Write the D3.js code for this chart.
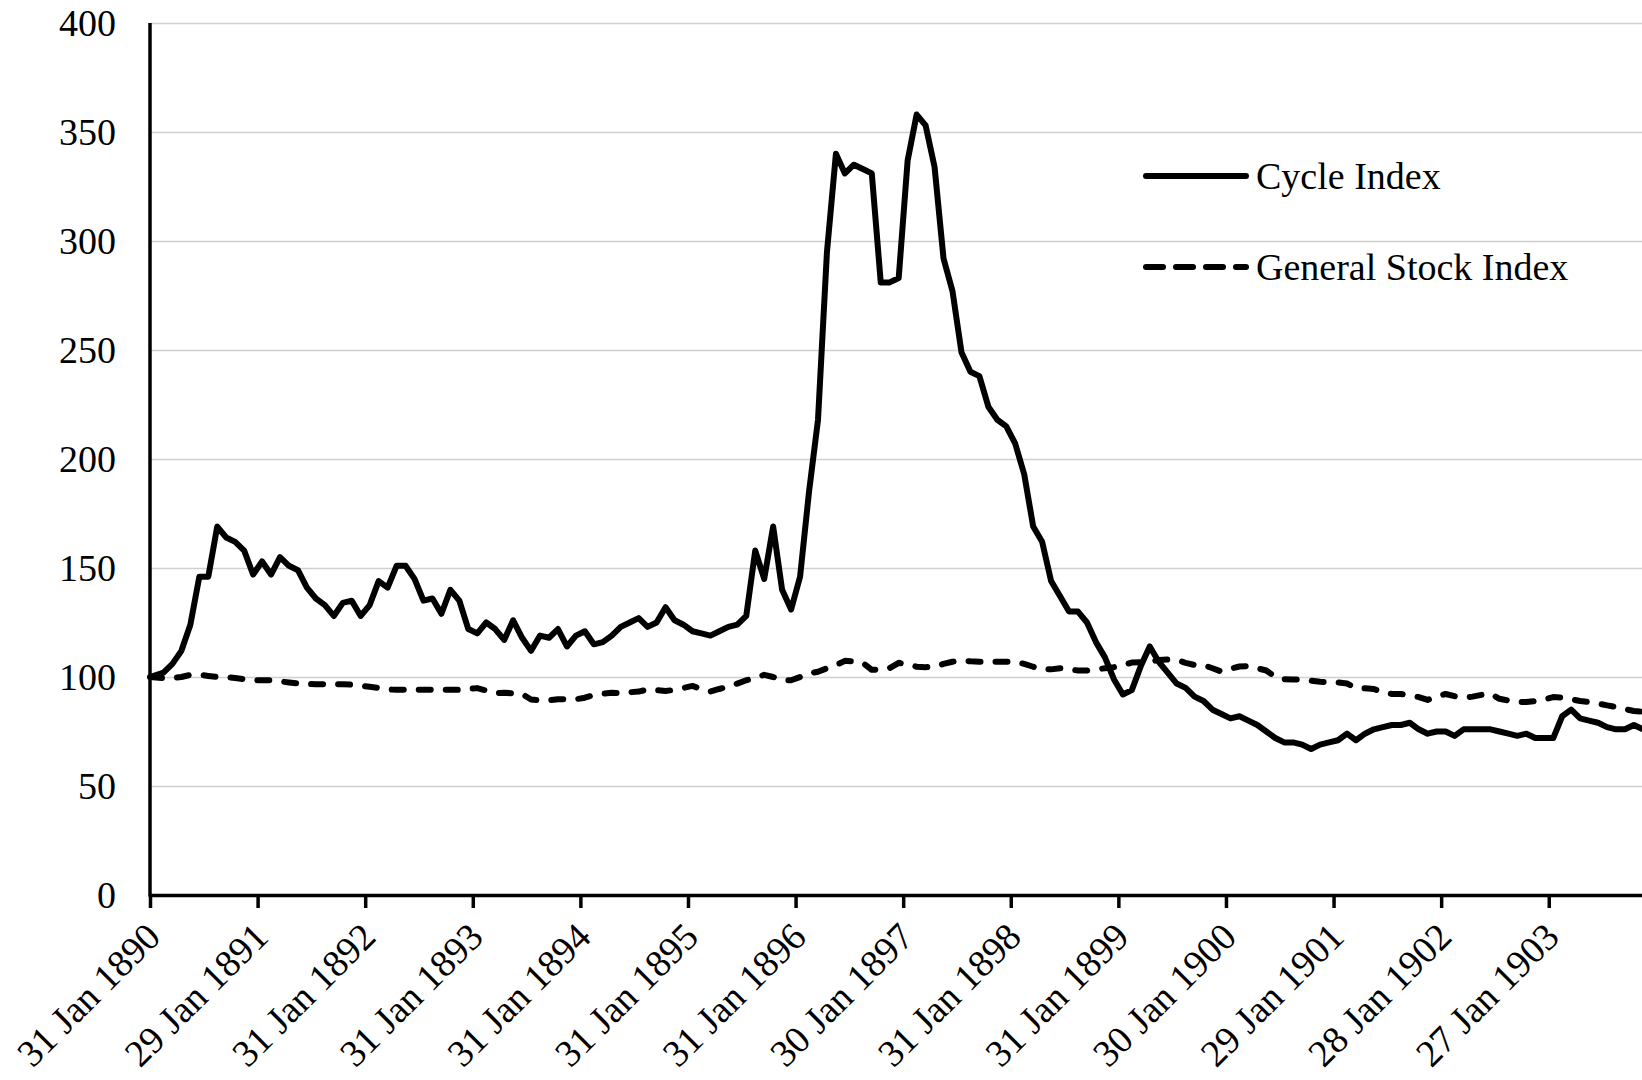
<!DOCTYPE html>
<html>
<head>
<meta charset="utf-8">
<script src="https://cdn.jsdelivr.net/npm/d3@7/dist/d3.min.js"></script>
<style>
  html, body { margin: 0; padding: 0; background: #ffffff; }
  svg { display: block; }
</style>
</head>
<body>
<svg id="chart" width="1642" height="1080"></svg>
<script>
// ---- Data (monthly, Jan 1890 onwards) ----
const tickLabels = ["31 Jan 1890","29 Jan 1891","31 Jan 1892","31 Jan 1893","31 Jan 1894","31 Jan 1895","31 Jan 1896","30 Jan 1897","31 Jan 1898","31 Jan 1899","30 Jan 1900","29 Jan 1901","28 Jan 1902","27 Jan 1903"];
const yTicks = [0, 50, 100, 150, 200, 250, 300, 350, 400];
const seriesNames = ["Cycle Index", "General Stock Index"];

const cycleIndex = [
  100,102,106,112,124,146,146,169,164,162,158,147,
  153,147,155,151,149,141,136,133,128,134,135,128,
  133,144,141,151,151,145,135,136,129,140,135,122,
  120,125,122,117,126,118,112,119,118,122,114,119,
  121,115,116,119,123,125,127,123,125,132,126,124,
  121,120,119,121,123,124,128,158,145,169,140,131,
  146,185,218,295,340,331,335,333,331,281,281,283,
  337,358,353,334,292,277,249,240,238,224,218,215,
  207,193,169,162,144,137,130,130,125,116,109,99,
  92,94,105,114,107,102,97,95,91,89,85,83,
  81,82,80,78,75,72,70,70,69,67,69,70,
  71,74,71,74,76,77,78,78,79,76,74,75,
  75,73,76,76,76,76,75,74,73,74,72,72,
  72,82,85,81,80,79,77,76,76,78,76
];

const stockIndex = [
  100,99.5,99.5,100,101,101,100.5,100,100,99.5,99,98.5,
  98.5,98.5,98,97.5,97,96.8,96.7,96.7,96.7,96.7,96.5,96,
  95.5,95,94.3,94.1,94.1,94.1,94.2,94.2,94.2,94.2,94.1,94.5,
  94.9,93.8,92.6,92.8,92.5,92.2,89.7,89.2,89.3,89.8,89.8,89.8,
  90.5,91.7,92.3,92.8,92.6,93,93.3,94.3,94,93.6,94.1,95,
  95.9,94.5,93.3,94.5,95.6,97,98.5,99.5,101,100,98.5,98.5,
  100,101.6,102.4,104,105.5,107.4,107.2,106.5,103.3,103.5,104.1,106.5,
  105.8,104.7,104.5,104.7,106,107,107.5,107.2,107,107,107,107,
  107,106,104.7,103.5,103.5,104,103.5,103,103,103.5,104,104.5,
  105.5,106.6,106.8,107,107.8,108,107.8,106.5,105.5,105.5,104,102.5,
  103.8,104.8,105,104,103,100,99,98.8,98.8,98.3,97.8,97.5,
  97.5,97,95,94.8,94.5,93,92.2,92.2,91.5,90.8,89.5,91,
  92.2,91.2,90.5,91,91.8,92.4,90,89.2,88.5,88.5,89,89.7,
  90.8,90.5,89.8,89,88.5,87.8,87,86.2,85.3,84.4,84
];

// ---- Layout ----
const svg = d3.select("#chart");
const mLeft = 150, mRight = 1642, mTop = 23, mBottom = 895;
const fontFamily = "'Liberation Serif', 'Times New Roman', serif";

const x = d3.scaleLinear().domain([0, 166.4]).range([mLeft, mRight]);
const y = d3.scaleLinear().domain([0, 400]).range([mBottom, mTop]);

// Gridlines
svg.append("g")
  .attr("transform", `translate(${mLeft},0)`)
  .call(d3.axisLeft(y).tickValues(yTicks.filter(v => v > 0)).tickSize(-(mRight - mLeft)).tickFormat(""))
  .call(g => g.select(".domain").remove())
  .call(g => g.selectAll("line").attr("stroke", "#d0d0d0").attr("stroke-width", 1.6));

// Y axis labels
const yAxis = svg.append("g")
  .attr("transform", `translate(${mLeft},0)`)
  .call(d3.axisLeft(y).tickValues(yTicks).tickSize(0).tickPadding(34).tickFormat(d3.format("d")));
yAxis.select(".domain").remove();
yAxis.selectAll("text")
  .attr("font-family", fontFamily)
  .attr("font-size", 38)
  .attr("fill", "#000")
  .attr("dy", "0.33em");

// Lines: the base observation sits on the axis, later month-end observations
// fall half a period after their month's tick.
const monthPos = i => (i === 0 ? 0 : i + 0.5);
const lineGen = d3.line().x((d, i) => x(monthPos(i))).y(d => y(d));

svg.append("path")
  .datum(stockIndex)
  .attr("fill", "none")
  .attr("stroke", "#000")
  .attr("stroke-width", 6)
  .attr("stroke-linecap", "round")
  .attr("stroke-linejoin", "round")
  .attr("stroke-dasharray", "12,15")
  .attr("d", lineGen);

svg.append("path")
  .datum(cycleIndex)
  .attr("fill", "none")
  .attr("stroke", "#000")
  .attr("stroke-width", 6)
  .attr("stroke-linejoin", "round")
  .attr("d", lineGen);

// X axis
const xAxis = svg.append("g")
  .attr("transform", `translate(0,${mBottom})`)
  .call(d3.axisBottom(x)
    .tickValues(tickLabels.map((d, i) => i * 12))
    .tickSize(13)
    .tickSizeOuter(0)
    .tickFormat((d, i) => tickLabels[i]));
xAxis.select(".domain").attr("stroke", "#000").attr("stroke-width", 3.5);
xAxis.selectAll(".tick line").attr("stroke", "#000").attr("stroke-width", 3.5);
xAxis.selectAll("text")
  .attr("font-family", fontFamily)
  .attr("font-size", 38)
  .attr("fill", "#000")
  .attr("text-anchor", "end")
  .attr("y", null)
  .attr("dy", null)
  .attr("transform", "translate(12,44) rotate(-45)");

// Y axis line
svg.append("line")
  .attr("x1", mLeft).attr("x2", mLeft)
  .attr("y1", mTop).attr("y2", mBottom + 1.5)
  .attr("stroke", "#000").attr("stroke-width", 3.5);

// Legend
const legend = svg.append("g");
const legendItems = [
  { name: seriesNames[0], dash: null, yPos: 176 },
  { name: seriesNames[1], dash: "17,13", yPos: 267 }
];
legendItems.forEach(item => {
  legend.append("line")
    .attr("x1", 1146).attr("x2", 1246)
    .attr("y1", item.yPos).attr("y2", item.yPos)
    .attr("stroke", "#000").attr("stroke-width", 6)
    .attr("stroke-linecap", "round")
    .attr("stroke-dasharray", item.dash);
  legend.append("text")
    .attr("x", 1256).attr("y", item.yPos + 13)
    .attr("font-family", fontFamily)
    .attr("font-size", 38)
    .attr("fill", "#000")
    .text(item.name);
});
</script>
</body>
</html>
